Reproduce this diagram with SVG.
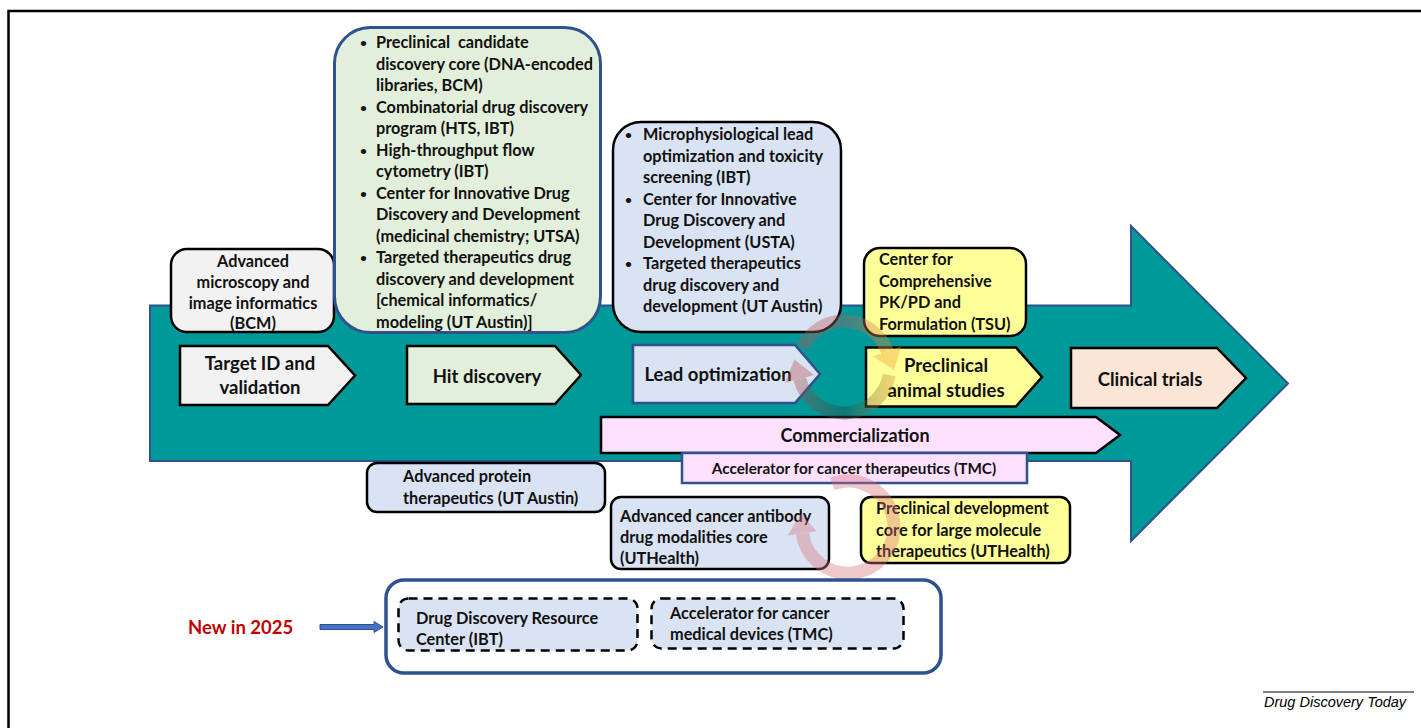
<svg xmlns="http://www.w3.org/2000/svg" width="1421" height="728" viewBox="0 0 1421 728">
<defs>
<style>
.t{font-family:Lato,"Open Sans","Liberation Sans",sans-serif;font-weight:bold;font-size:16.3px;fill:#111;}
.b{font-size:12px;}
.st{font-size:18.5px;}
.c{text-anchor:middle;}
.pent{stroke:#000;stroke-width:2.5;stroke-linejoin:miter;}
.box{stroke:#000;stroke-width:2.5;}
.blue{fill:#DAE3F3;}
.yel{fill:#FFFF99;}
.pink{fill:#FFE1FF;}
.dash{stroke:#000;stroke-width:2.5;stroke-dasharray:9 6;fill:#DAE3F3;}
</style>
<linearGradient id="gUp" gradientUnits="userSpaceOnUse" x1="790" y1="0" x2="900" y2="0">
<stop offset="0" stop-color="#C0504D"/><stop offset="0.5" stop-color="#B06060"/><stop offset="1" stop-color="#F0A030"/>
</linearGradient>
<linearGradient id="gLo" gradientUnits="userSpaceOnUse" x1="900" y1="0" x2="790" y2="0">
<stop offset="0" stop-color="#F0A030"/><stop offset="0.5" stop-color="#204848"/><stop offset="1" stop-color="#C0504D"/>
</linearGradient>
</defs>
<rect width="1421" height="728" fill="#fff"/>
<path d="M8.5,728 V11 H1421" fill="none" stroke="#000" stroke-width="2.5"/>

<g id="main-arrow">
<path d="M150,305.5 H1131 V226 L1288,383.5 L1131,541 V461 H150 Z" fill="#009999" stroke="#2F528F" stroke-width="2"/>
</g>

<g id="microscopy">
<rect x="171" y="249" width="163" height="83" rx="16" fill="#F2F2F2" class="box"/>
<text class="t c" x="253"><tspan x="253" y="267">Advanced</tspan><tspan x="253" y="288">microscopy and</tspan><tspan x="253" y="309">image informatics</tspan><tspan x="253" y="329">(BCM)</tspan></text>
</g>

<g id="hit-box">
<rect x="334.5" y="27.5" width="266" height="305" rx="36" fill="#E2EFDA" stroke="#2F528F" stroke-width="3"/>
<text class="t" style="white-space:pre">
<tspan class="b" x="360" y="47">•</tspan><tspan x="376" y="48">Preclinical  candidate</tspan>
<tspan x="376" y="69.5">discovery core (DNA-encoded</tspan>
<tspan x="376" y="91">libraries, BCM)</tspan>
<tspan class="b" x="360" y="111.5">•</tspan><tspan x="376" y="112.5">Combinatorial drug discovery</tspan>
<tspan x="376" y="134">program (HTS, IBT)</tspan>
<tspan class="b" x="360" y="154.5">•</tspan><tspan x="376" y="155.5">High-throughput flow</tspan>
<tspan x="376" y="177">cytometry (IBT)</tspan>
<tspan class="b" x="360" y="197.5">•</tspan><tspan x="376" y="198.5">Center for Innovative Drug</tspan>
<tspan x="376" y="220">Discovery and Development</tspan>
<tspan x="376" y="241.5">(medicinal chemistry; UTSA)</tspan>
<tspan class="b" x="360" y="262">•</tspan><tspan x="376" y="263">Targeted therapeutics drug</tspan>
<tspan x="376" y="284.5">discovery and development</tspan>
<tspan x="376" y="306">[chemical informatics/</tspan>
<tspan x="376" y="327.5">modeling (UT Austin)]</tspan>
</text>
</g>

<g id="lead-box">
<rect x="613" y="122" width="228" height="210" rx="28" class="box blue"/>
<text class="t">
<tspan class="b" x="625" y="139">•</tspan><tspan x="643" y="140">Microphysiological lead</tspan>
<tspan x="643" y="161.5">optimization and toxicity</tspan>
<tspan x="643" y="183">screening (IBT)</tspan>
<tspan class="b" x="625" y="203.5">•</tspan><tspan x="643" y="204.5">Center for Innovative</tspan>
<tspan x="643" y="226">Drug Discovery and</tspan>
<tspan x="643" y="247.5">Development (USTA)</tspan>
<tspan class="b" x="625" y="268">•</tspan><tspan x="643" y="269">Targeted therapeutics</tspan>
<tspan x="643" y="290.5">drug discovery and</tspan>
<tspan x="643" y="312">development (UT Austin)</tspan>
</text>
</g>

<g id="pkpd">
<rect x="864" y="248" width="162" height="88" rx="16" class="box yel"/>
<text class="t"><tspan x="879" y="265">Center for</tspan><tspan x="879" y="287">Comprehensive</tspan><tspan x="879" y="308">PK/PD and</tspan><tspan x="879" y="330">Formulation (TSU)</tspan></text>
</g>

<g id="target">
<path d="M180,346 H328 L355,375.5 L328,405 H180 Z" fill="#F2F2F2" class="pent"/>
<text class="t st c"><tspan x="260" y="370">Target ID and</tspan><tspan x="260" y="394">validation</tspan></text>
</g>
<g id="hit">
<path d="M407,346 H555 L581,375 L555,404 H407 Z" fill="#E2EFDA" class="pent"/>
<text class="t st c" x="487" y="383">Hit discovery</text>
</g>
<g id="lead">
<path d="M633,345 H795 L820,374 L795,403 H633 Z" class="blue" stroke="#2F528F" stroke-width="2.5"/>
<text class="t st c" x="718" y="381">Lead optimization</text>
</g>
<g id="preclinical">
<path d="M866,347.5 H1016 L1042,377 L1016,406.5 H866 Z" class="pent yel"/>
<text class="t st c"><tspan x="946" y="372">Preclinical</tspan><tspan x="946" y="397">animal studies</tspan></text>
</g>
<g id="clinical">
<path d="M1071,348 H1217 L1246,378 L1217,408 H1071 Z" fill="#FBE5D6" class="pent"/>
<text class="t st c" x="1150" y="386">Clinical trials</text>
</g>

<g id="commercialization">
<path d="M601,417 H1096 L1120,435 L1096,453 H601 Z" class="pent pink"/>
<text class="t c" style="font-size:18px" x="855" y="442">Commercialization</text>
</g>
<g id="accelerator-tmc">
<rect x="682" y="453" width="345" height="30" class="pink" stroke="#2F528F" stroke-width="2.5"/>
<text class="t c" style="font-size:15.3px" x="854" y="474">Accelerator for cancer therapeutics (TMC)</text>
</g>

<g id="protein">
<rect x="367" y="463" width="238" height="49" rx="10" class="box blue"/>
<text class="t"><tspan x="403" y="482">Advanced protein</tspan><tspan x="403" y="504">therapeutics (UT Austin)</tspan></text>
</g>
<g id="antibody">
<rect x="611" y="497" width="218" height="72" rx="10" class="box blue"/>
<text class="t"><tspan x="620" y="522">Advanced cancer antibody</tspan><tspan x="620" y="543">drug modalities core</tspan><tspan x="620" y="564">(UTHealth)</tspan></text>
</g>
<g id="large-molecule">
<rect x="861" y="497" width="209" height="66" rx="10" class="box yel"/>
<text class="t"><tspan x="876" y="514">Preclinical development</tspan><tspan x="876" y="536">core for large molecule</tspan><tspan x="876" y="557">therapeutics (UTHealth)</tspan></text>
</g>

<g id="cycles" opacity="0.38">
<path d="M802.3,347.6 A46 46 0 0 1 887.2,351.3" fill="none" stroke="url(#gUp)" stroke-width="13"/>
<polygon points="901.3,346.2 873.1,356.4 894,370.1" fill="#F0A030"/>
<path d="M889.3,375 A46 46 0 0 1 799.6,378.9" fill="none" stroke="url(#gLo)" stroke-width="13"/>
<polygon points="785.1,382.8 814.1,375 794.4,359.6" fill="#C0504D"/>
<path d="M832.3,483.8 A46 46 0 1 1 802.4,533.4" fill="none" stroke="#D9707A" stroke-width="13"/>
<polygon points="787.5,535.5 816.7,531.3 801.1,514" fill="#D9707A"/>
</g>

<g id="new-2025">
<rect x="386" y="580" width="555" height="93" rx="18" fill="#fff" stroke="#2F528F" stroke-width="3.5"/>
<rect x="398.5" y="598.5" width="239" height="52" rx="10" class="dash"/>
<text class="t"><tspan x="416" y="624">Drug Discovery Resource</tspan><tspan x="416" y="645">Center (IBT)</tspan></text>
<rect x="651.5" y="598.5" width="252" height="50" rx="10" class="dash"/>
<text class="t"><tspan x="670" y="619">Accelerator for cancer</tspan><tspan x="670" y="640">medical devices (TMC)</tspan></text>
</g>

<g id="new-label">
<text class="t st" x="188" y="634" style="fill:#C00000">New in 2025</text>
</g>

<g id="connectors">
<path d="M320,624.5 H374 V621.5 L383,627 L374,632.5 V629.5 H320 Z" fill="#4472C4" stroke="#2F528F" stroke-width="1"/>
</g>

<g id="credit">
<line x1="1263" y1="692" x2="1414" y2="692" stroke="#000" stroke-width="1"/>
<text x="1264" y="707" style="font-family:'Liberation Sans',Arial,sans-serif;font-style:italic;font-size:14.5px;fill:#000">Drug Discovery Today</text>
</g>
</svg>
